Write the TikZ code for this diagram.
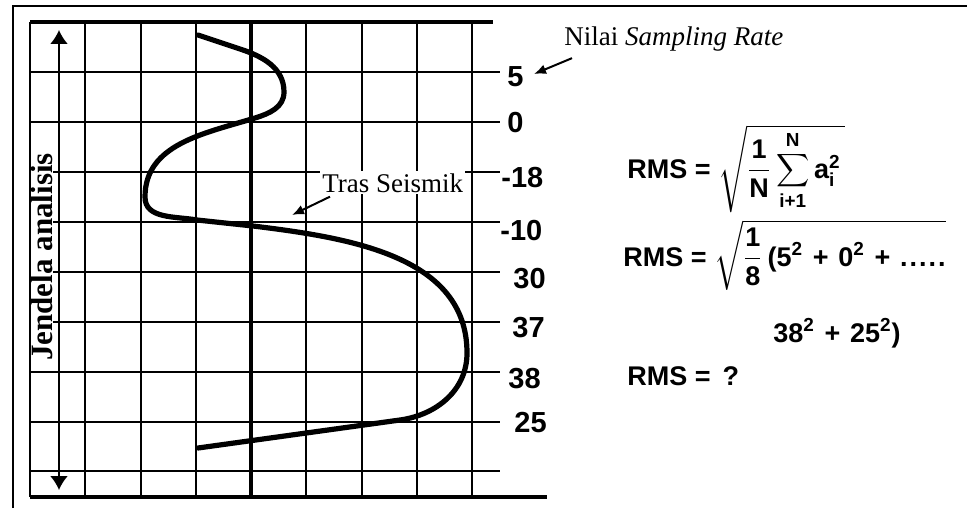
\documentclass[tikz,border=0pt]{standalone}
\usepackage{amsmath}
\usepackage{graphicx}
\usepackage{fontspec}
\setmainfont{Liberation Serif}
\setsansfont{Liberation Sans}
\usepackage{tikz}
\usetikzlibrary{calc, positioning, arrows.meta}

\newcommand{\wplus}{\hspace{0.36em}+\hspace{0.36em}}
\newcommand{\midsum}{\mathop{\vcenter{\hbox{\scalebox{0.8}{$\displaystyle\sum$}}}}}

\begin{document}
\begin{tikzpicture}[x=0.5pt, y=-0.5pt,
  gridline/.style={line width=1pt},
  heavyline/.style={line width=2.3pt},
  trace/.style={line width=2.6pt, line join=round, line cap=round},
  pointer/.style={line width=1pt, -{Latex[length=6pt,width=5pt]}},
  ticklabel/.style={font=\fontsize{14.5}{16}\sffamily\bfseries, anchor=west, inner sep=0pt},
  formula/.style={font=\fontsize{13.5}{15}\sffamily\bfseries, anchor=base west, inner sep=0pt},
  note/.style={font=\fontsize{13.5}{15}\selectfont, inner sep=1pt}]
\useasboundingbox (0,0) rectangle (967,508);
% frame and grid
\draw[line width=1pt] (13,508) -- (13,6) -- (967,6);
\foreach \y in {72,122,...,422,471} \draw[gridline] (30,\y) -- (500,\y);
\foreach \i in {0,...,8} \draw[gridline] ({30+55.25*\i},22) -- ({30+55.25*\i},497);
\draw[heavyline] (30,22) -- (493,22);
\draw[heavyline] (30,497) -- (547,497);
\draw[heavyline] (251,22) -- (251,497);
% seismic trace
\draw[trace] (198,35) -- (240,49) to[out=-18,in=90] (284,92) to[out=-90,in=17] (255,118)
  to[out=-163,in=90] (145,197) to[out=-90,in=170] (197,220) -- (253,226)
  to[out=-7,in=90] (467,353) to[out=-90,in=8] (400,420) -- (198,448);
% window
\node[note, rotate=90, fill=white, inner sep=0pt, font=\fontsize{15.5}{17}\bfseries] (jendela) at (42,257) {Jendela analisis};
\coordinate (wtop) at (59,30);
\coordinate (wbot) at (59,490);
\draw[line width=1pt, {Latex[length=7pt,width=9pt]}-{Latex[length=7pt,width=9pt]}] (wtop) -- (wbot);
% sample values
\foreach \v/\x/\y [count=\k] in {5/507/77, 0/507/123, -18/501/178, -10/500/231, 30/513/279, 37/512/328, 38/508/379, 25/514/423}
  \node[ticklabel] (t\k) at (\x,\y) {\v};
\node[note, anchor=base west] (nilai) at (562,46) {Nilai \textit{Sampling Rate}};
\coordinate (nilaiTip) at (534,74);
\draw[pointer] ([xshift=5pt,yshift=-2pt]nilai.south west) -- (nilaiTip);
\node[note, fill=white, anchor=base west] (tras) at (320,192) {Tras Seismik};
\coordinate (trasTip) at (292,215);
\draw[pointer] ([xshift=5pt,yshift=-1pt]tras.south west) -- (trasTip);
% formulas
\node[formula] (rms1) at (627,178) {RMS = $\sqrt{\dfrac{\text{1}}{\text{N}}\midsum\limits_{\text{i+1}}^{\text{N}}\text{a}_{\text{i}}^{\text{2}}\,}$};
\node[formula] (rms2) at (623,266) {RMS = $\sqrt{\dfrac{\text{1}}{\text{8}}\,\text{(5\textsuperscript{2}\wplus 0\textsuperscript{2}\wplus .\hspace{1pt}.\hspace{1pt}.\hspace{1pt}.\hspace{1pt}.}}$};
\node[formula] (rms3) at (773,342) {38\textsuperscript{2}\wplus 25\textsuperscript{2})};
\node[formula] (rms4) at (627,385) {RMS =\hspace{6pt}?};
\end{tikzpicture}
\end{document}
